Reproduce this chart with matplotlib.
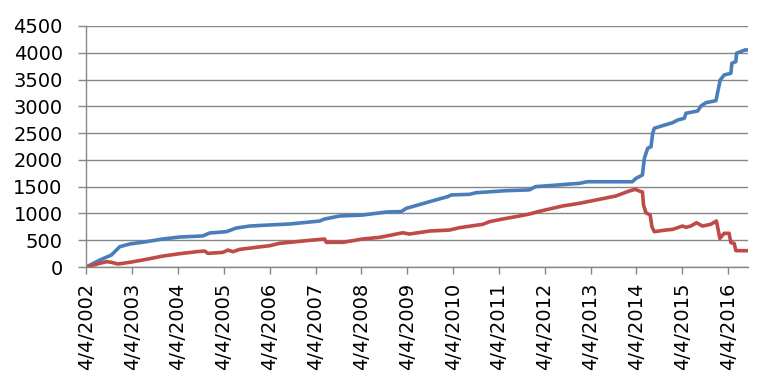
import matplotlib
matplotlib.use("Agg")
import matplotlib.pyplot as plt
import numpy as np
import pandas as pd

# blue series (cumulative)
blue_dates = ["2002-04-04", "2002-07-20", "2002-10-21", "2002-12-27", "2003-03-16",
              "2003-07-27", "2003-12-04", "2004-04-17", "2004-10-17", "2004-12-12",
              "2005-04-24", "2005-07-12", "2005-10-26", "2006-04-03", "2006-09-09",
              "2007-05-06", "2007-06-15", "2007-10-12", "2008-04-13", "2008-10-21",
              "2009-02-15", "2009-03-27", "2009-09-29", "2010-02-19", "2010-03-20",
              "2010-08-13", "2010-10-05", "2011-06-01", "2011-12-03", "2012-01-20",
              "2013-01-04", "2013-03-09", "2014-03-02", "2014-03-31", "2014-05-21",
              "2014-06-06", "2014-07-02", "2014-07-29", "2014-08-11", "2014-08-24",
              "2014-10-29", "2015-01-17", "2015-02-26", "2015-04-20", "2015-05-03",
              "2015-08-04", "2015-08-31", "2015-10-10", "2015-12-28", "2016-01-31",
              "2016-03-03", "2016-04-25", "2016-05-03", "2016-06-04", "2016-06-09",
              "2016-07-14", "2016-08-17", "2016-09-10"]
blue_vals = [0, 130, 224, 380, 430,
             473, 523, 560, 580, 635,
             660, 728, 765, 785, 803,
             858, 896, 952, 970, 1027,
             1035, 1095, 1220, 1313, 1345,
             1357, 1387, 1425, 1440, 1500,
             1562, 1592, 1592, 1655, 1717,
             2030, 2216, 2246, 2496, 2590,
             2638, 2694, 2744, 2776, 2870,
             2912, 3006, 3068, 3105, 3492,
             3585, 3616, 3803, 3834, 3990,
             4021, 4052, 4052]

# red series
red_dates = ["2002-04-04", "2002-07-20", "2002-09-12", "2002-10-21", "2002-12-13",
             "2003-03-16", "2003-07-27", "2003-12-06", "2004-04-17", "2004-08-28",
             "2004-11-02", "2004-11-28", "2005-03-28", "2005-05-06", "2005-06-15",
             "2005-08-08", "2006-04-03", "2006-06-22", "2007-02-16", "2007-06-15",
             "2007-06-29", "2007-11-08", "2008-04-13", "2008-08-26", "2008-11-13",
             "2009-02-27", "2009-04-21", "2009-09-29", "2010-03-06", "2010-05-24",
             "2010-11-26", "2011-01-18", "2011-05-04", "2011-09-14", "2011-12-03",
             "2012-02-20", "2012-08-23", "2013-01-04", "2013-05-16", "2013-10-22",
             "2014-02-05", "2014-03-25", "2014-04-26", "2014-05-22", "2014-05-30",
             "2014-06-18", "2014-07-22", "2014-08-05", "2014-08-24", "2014-11-25",
             "2015-01-17", "2015-04-05", "2015-05-03", "2015-06-11", "2015-07-26",
             "2015-09-11", "2015-11-17", "2016-01-01", "2016-01-28", "2016-03-03",
             "2016-04-11", "2016-04-25", "2016-05-21", "2016-06-04", "2016-09-10"]
red_vals = [0, 69, 100, 88, 56,
            88, 144, 205, 249, 286,
            299, 255, 274, 317, 286,
            330, 398, 442, 498, 523,
            461, 461, 523, 554, 590,
            640, 616, 672, 690, 734,
            797, 846, 896, 952, 989,
            1040, 1139, 1189, 1251, 1326,
            1419, 1450, 1419, 1400, 1157,
            1014, 971, 753, 660, 691,
            703, 765, 741, 765, 827,
            765, 797, 859, 536, 629,
            629, 454, 442, 305, 305]

tick_years = list(range(2002, 2017))
y_ticks = list(range(0, 4501, 500))

blue_x = pd.to_datetime(blue_dates)
red_x = pd.to_datetime(red_dates)
tick_x = pd.to_datetime([f"{y}-04-04" for y in tick_years])
tick_labels = [f"4/4/{y}" for y in tick_years]

fig = plt.figure(figsize=(7.81, 3.87), dpi=100)
ax = fig.add_axes([0.1105, 0.31, 0.8475, 0.623])

grid_c = "#868686"
ax.plot(blue_x, blue_vals, color="#4A7EBB", lw=2.6, solid_joinstyle="round")
ax.plot(red_x, red_vals, color="#BE4B48", lw=2.6, solid_joinstyle="round")

ax.set_xlim(blue_x[0], blue_x[-1])
ax.set_ylim(0, 4500)
ax.set_yticks(y_ticks)
ax.set_xticks(tick_x)
ax.set_xticklabels(tick_labels, rotation=90)

ax.grid(axis="y", color=grid_c, lw=1.0)
ax.set_axisbelow(True)
for s in ["top", "right"]:
    ax.spines[s].set_visible(False)
for s in ["left", "bottom"]:
    ax.spines[s].set_color(grid_c)
    ax.spines[s].set_linewidth(1.0)

ax.tick_params(axis="y", length=6, width=1.0, color=grid_c, pad=11, labelsize=14)
ax.tick_params(axis="x", length=5, width=1.0, color=grid_c, pad=6, labelsize=14)

fig.savefig("out.png", dpi=100)
